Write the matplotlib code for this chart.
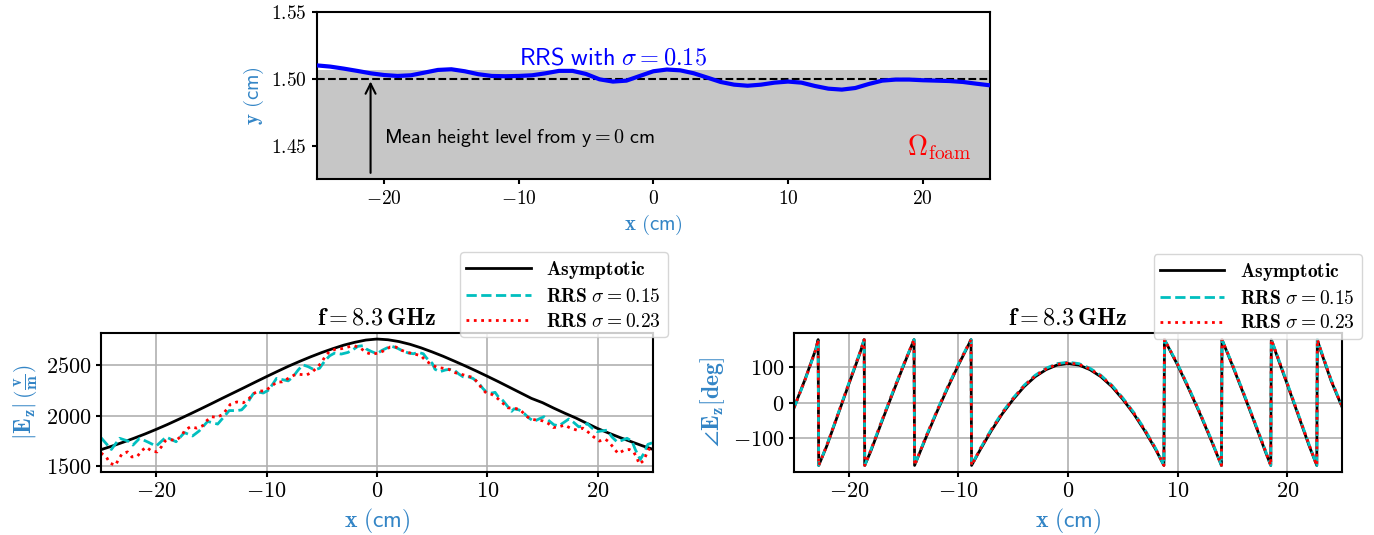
import matplotlib
matplotlib.use("Agg")
import matplotlib.pyplot as plt
from matplotlib.ticker import FuncFormatter

plt.rcParams['mathtext.fontset'] = 'cm'
plt.rcParams['axes.linewidth'] = 1.5

LABEL_BLUE = '#3385c6'

# surface profile of the random rough surface (cm)
surf_x = [-25, -24, -23, -22, -21, -20, -19, -18, -17, -16, -15, -14, -13, -12, -11, -10, -9, -8, -7,
          -6, -5, -4, -3, -2, -1, 0, 1, 2, 3, 4, 5, 6, 7, 8, 9, 10, 11, 12, 13, 14, 15, 16, 17, 18,
          19, 20, 21, 22, 23, 24, 25]
surf_y = [1.5099, 1.5090, 1.5075, 1.5058, 1.5040, 1.5027, 1.5020, 1.5025, 1.5045, 1.5065, 1.5070,
          1.5055, 1.5033, 1.5020, 1.5018, 1.5020, 1.5025, 1.5040, 1.5058, 1.5058, 1.5035, 1.4995,
          1.4978, 1.4985, 1.5020, 1.5055, 1.5068, 1.5062, 1.5040, 1.5008, 1.4975, 1.4955, 1.4947,
          1.4955, 1.4970, 1.4978, 1.4970, 1.4945, 1.4925, 1.4918, 1.4930, 1.4960, 1.4985, 1.4993,
          1.4993, 1.4988, 1.4985, 1.4982, 1.4975, 1.4962, 1.4950]
mean_height = 1.50
foam_top = 1.5062

# |Ez| asymptotic
asym_x = surf_x
asym_mag = [1665, 1700, 1738, 1778, 1820, 1865, 1912, 1962, 2013, 2065, 2118, 2172, 2225, 2278, 2332,
            2385, 2437, 2488, 2535, 2580, 2622, 2660, 2695, 2723, 2745, 2755, 2748, 2730, 2703, 2668,
            2628, 2585, 2538, 2490, 2440, 2388, 2335, 2280, 2225, 2170, 2128, 2075, 2025, 1978, 1925,
            1873, 1828, 1785, 1745, 1705, 1668]

# |Ez| RRS sigma = 0.15
rrs15_x = [-25.0, -24.06, -23.31, -22.56, -22.1, -21.5, -20.75, -20.0, -19.1, -18.2, -17.44, -16.7,
           -16.1, -15.34, -14.43, -13.38, -12.7, -12.26, -11.8, -11.5, -11.2, -10.75, -10.3, -9.85,
           -9.4, -9.1, -8.65, -8.04, -7.6, -7.14, -6.7, -6.24, -5.64, -5.2, -4.7, -4.28, -3.83,
           -3.23, -2.63, -2.18, -1.73, -1.28, -0.97, -0.52, 0.0, 0.45, 0.9, 1.35, 1.8, 2.25, 2.85,
           3.3, 3.75, 4.2, 4.5, 5.0, 5.26, 5.7, 6.2, 6.6, 7.06, 7.42, 7.8, 8.26, 8.7, 9.2, 9.6,
           10.0, 10.4, 10.7, 10.96, 11.4, 11.9, 12.2, 12.42, 12.87, 13.32, 13.77, 14.22, 14.67,
           15.13, 15.58, 16.03, 16.48, 16.93, 17.38, 17.83, 18.28, 18.74, 19.04, 19.49, 19.94,
           20.39, 20.84, 21.29, 21.74, 22.2, 22.65, 23.1, 23.4, 23.85, 24.15, 24.54, 25.0]
rrs15_mag = [1783, 1667, 1777, 1750, 1710, 1777, 1740, 1700, 1790, 1743, 1833, 1800, 1850, 1943, 1917,
             2050, 2050, 2057, 2110, 2167, 2217, 2233, 2223, 2250, 2317, 2367, 2357, 2343, 2383, 2450,
             2500, 2483, 2450, 2467, 2543, 2590, 2617, 2607, 2623, 2650, 2683, 2690, 2657, 2633, 2610,
             2643, 2667, 2683, 2667, 2643, 2617, 2610, 2623, 2610, 2567, 2517, 2457, 2433, 2450, 2457,
             2443, 2410, 2383, 2383, 2367, 2323, 2267, 2223, 2223, 2230, 2190, 2150, 2083, 2043, 2067,
             2057, 2023, 1977, 1943, 1967, 1990, 1950, 1910, 1900, 1933, 1967, 1933, 1890, 1900, 1923,
             1877, 1843, 1850, 1857, 1790, 1743, 1757, 1777, 1750, 1667, 1567, 1623, 1717, 1735]

# |Ez| RRS sigma = 0.23
rrs23_x = [-25.0, -24.5, -24.2, -23.7, -23.4, -23.1, -22.6, -22.2, -21.7, -21.3, -20.9, -20.4, -19.9,
           -19.5, -19.2, -18.8, -18.2, -17.7, -17.4, -16.9, -16.3, -15.8, -15.5, -15.0, -14.5, -14.0,
           -13.6, -13.3, -12.7, -12.1, -11.6, -11.2, -10.7, -10.15, -9.55, -9.1, -8.6, -8.04, -7.5,
           -7.0, -6.4, -5.9, -5.4, -5.0, -4.7, -4.3, -3.7, -3.2, -2.6, -2.1, -1.5, -1.0, -0.5, 0.15,
           0.7, 1.2, 1.7, 2.25, 2.8, 3.4, 4.0, 4.4, 4.9, 5.4, 6.0, 6.5, 7.1, 7.66, 8.2, 8.7, 9.2, 9.5,
           9.9, 10.4, 10.96, 11.4, 11.86, 12.5, 13.0, 13.47, 13.92, 14.43, 14.98, 15.52, 15.97,
           16.48, 17.0, 17.53, 18.13, 18.65, 19.19, 19.64, 20.15, 20.7, 21.0, 21.44, 21.84, 22.35,
           22.86, 23.25, 23.55, 23.76, 24.15, 24.6, 25.0]
rrs23_mag = [1633, 1590, 1533, 1510, 1570, 1623, 1643, 1593, 1600, 1657, 1690, 1650, 1643, 1697, 1750,
             1763, 1757, 1800, 1857, 1890, 1877, 1900, 1943, 1990, 1983, 2010, 2063, 2110, 2135, 2127,
             2167, 2217, 2243, 2243, 2290, 2330, 2333, 2367, 2400, 2407, 2400, 2427, 2477, 2527, 2583,
             2633, 2657, 2660, 2677, 2690, 2667, 2623, 2605, 2617, 2643, 2677, 2677, 2643, 2623, 2607,
             2590, 2543, 2507, 2477, 2467, 2457, 2423, 2407, 2390, 2377, 2317, 2267, 2223, 2210, 2167,
             2123, 2077, 2073, 2057, 2000, 1967, 1957, 1950, 1923, 1883, 1890, 1907, 1877, 1857, 1877,
             1833, 1790, 1750, 1767, 1743, 1683, 1627, 1657, 1667, 1643, 1583, 1523, 1557, 1667, 1680]

# phase of Ez (deg), wrapped to [-180, 180]
phase_x = [-25.0, -24.0, -23.0, -22.8, -22.75, -22.0, -21.0, -20.0, -19.0, -18.6, -18.55, -18.0, -17.0,
           -16.0, -15.0, -14.05, -14.0, -13.0, -12.0, -11.0, -10.0, -9.0, -8.85, -8.8, -8.0, -7.0,
           -6.0, -5.0, -4.0, -3.0, -2.0, -1.0, 0.0, 1.0, 2.0, 3.0, 4.0, 5.0, 6.0, 7.0, 8.0, 8.75,
           8.8, 10.0, 11.0, 12.0, 13.0, 14.0, 14.05, 15.0, 16.0, 17.0, 18.0, 18.5, 18.55, 19.0,
           20.0, 21.0, 22.0, 22.7, 22.75, 23.0, 24.0, 25.0]
phase_asym = [-14, 65, 152, 178, -178, -122, -35, 52, 138, 178, -178, -138, -55, 26, 105, 178, -178,
              -102, -29, 40, 106, 168, 178, -178, -133, -80, -32, 9, 45, 73, 93, 106, 110, 106, 93, 73,
              45, 9, -32, -80, -133, -178, 178, 106, 40, -29, -102, -178, 178, 105, 26, -55, -138,
              -178, 178, 138, 52, -35, -122, -178, 178, 152, 62, -12]
phase_rrs15 = [-16, 63, 150, 178, -178, -120, -33, 55, 141, 178, -178, -135, -52, 29, 108, 178, -178,
               -99, -26, 43, 109, 170, 178, -178, -130, -76, -28, 13, 49, 77, 97, 110, 114, 110, 97, 77,
               49, 13, -28, -76, -130, -178, 178, 109, 43, -26, -99, -178, 178, 108, 29, -52, -135,
               -178, 178, 141, 55, -32, -119, -178, 178, 155, 65, -10]
phase_rrs23 = [-15, 64, 151, 178, -178, -121, -34, 54, 140, 178, -178, -136, -53, 28, 107, 178, -178,
               -100, -27, 42, 108, 169, 178, -178, -131, -78, -30, 11, 47, 75, 95, 108, 112, 108, 95, 75,
               47, 11, -30, -78, -131, -178, 178, 108, 42, -27, -100, -178, 178, 107, 28, -53, -136,
               -178, 178, 140, 54, -33, -120, -178, 178, 154, 64, -11]


def tex_ticks(fmt):
    return FuncFormatter(lambda v, pos: "$" + format(v, fmt) + "$")


fig = plt.figure(figsize=(13.74, 5.35), dpi=100)

# ---- top: surface profile ----
ax0 = fig.add_axes([0.2305, 0.6654, 0.4900, 0.3127])
ax0.axhspan(1.425, foam_top, color='#c6c6c6', lw=0, zorder=0)
ax0.axhline(mean_height, color='k', ls='--', lw=1.5, zorder=2)
ax0.plot(surf_x, surf_y, color='b', lw=3, zorder=3)
ax0.annotate('', xy=(-21, mean_height), xytext=(-21, 1.4275),
             arrowprops=dict(arrowstyle='->', color='k', lw=1.5, mutation_scale=18))
ax0.text(-20, 1.4557, r"$\mathsf{Mean\ height\ level\ from\ y} = \mathsf{0\ cm}$",
         fontsize=14.5, va='center', ha='left')
ax0.text(-10, 1.5157, r"$\mathsf{RRS\ with}\ \sigma = 0.15$", color='b', fontsize=17.5,
         va='center', ha='left')
ax0.text(21.2, 1.4485, r"$\Omega_{\mathrm{foam}}$", color='r', fontsize=20, ha='center', va='center')
ax0.set_xlim(-25, 25)
ax0.set_ylim(1.425, 1.55)
ax0.set_yticks([1.45, 1.50, 1.55])
ax0.set_xticks([-20, -10, 0, 10, 20])
ax0.xaxis.set_major_formatter(tex_ticks('g'))
ax0.yaxis.set_major_formatter(tex_ticks('.2f'))
ax0.tick_params(labelsize=14, width=1.5)
ax0.set_xlabel(r"$\mathbf{x}\ \mathsf{(cm)}$", fontsize=15, color=LABEL_BLUE)
ax0.set_ylabel(r"$\mathbf{y}\ \mathsf{(cm)}$", fontsize=15, color=LABEL_BLUE)

leg_labels = [r"$\mathbf{Asymptotic}$", r"$\mathbf{RRS}\ \sigma = \mathbf{0.15}$",
              r"$\mathbf{RRS}\ \sigma = \mathbf{0.23}$"]

# ---- bottom left: magnitude ----
ax1 = fig.add_axes([0.0735, 0.1183, 0.4017, 0.2598])
ax1.plot(asym_x, asym_mag, color='k', lw=2, label=leg_labels[0])
ax1.plot(rrs15_x, rrs15_mag, color='c', ls='--', lw=2, label=leg_labels[1])
ax1.plot(rrs23_x, rrs23_mag, color='r', ls=':', lw=2, label=leg_labels[2])
ax1.set_ylabel(r"$|\mathbf{E_z}|\,\left(\frac{\mathbf{v}}{\mathbf{m}}\right)$", fontsize=17,
               color=LABEL_BLUE)

# ---- bottom right: phase ----
ax2 = fig.add_axes([0.5779, 0.1183, 0.3988, 0.2587])
ax2.plot(phase_x, phase_asym, color='k', lw=2, label=leg_labels[0])
ax2.plot(phase_x, phase_rrs15, color='c', ls='--', lw=2, label=leg_labels[1])
ax2.plot(phase_x, phase_rrs23, color='r', ls=':', lw=2, label=leg_labels[2])
ax2.set_ylabel(r"$\angle\mathbf{E_z}[\mathbf{deg}]$", fontsize=17, color=LABEL_BLUE)

for ax, anchor in ((ax1, (1.027, 1.58)), (ax2, (1.036, 1.573))):
    ax.set_xlim(-25, 25)
    ax.set_xticks([-20, -10, 0, 10, 20])
    ax.xaxis.set_major_formatter(tex_ticks('g'))
    ax.yaxis.set_major_formatter(tex_ticks('g'))
    ax.tick_params(labelsize=16, width=1.5)
    ax.grid(True, color='#b0b0b0', lw=1.2)
    ax.set_axisbelow(True)
    ax.set_title(r"$\mathbf{f = 8.3\,GHz}$", fontsize=17.5)
    ax.set_xlabel(r"$\mathbf{x}\ \mathsf{(cm)}$", fontsize=17, color=LABEL_BLUE)
    ax.legend(loc='upper right', bbox_to_anchor=anchor, borderaxespad=0, fontsize=14,
              handlelength=3.3, labelspacing=0.3, borderpad=0.35)

fig.savefig("out.png", dpi=100)
